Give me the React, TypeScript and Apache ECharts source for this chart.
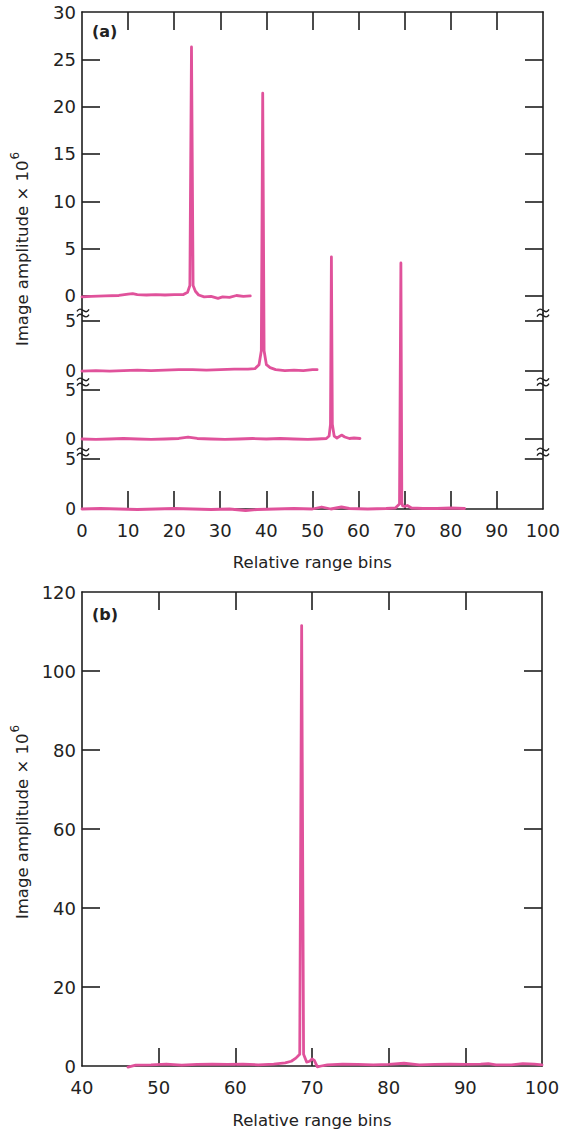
import React, { useEffect, useRef } from "react";
import * as echarts from "echarts";

// ---------- data ----------
// Panel (a): four offset traces (each on its own broken-axis segment)
const t1X = [0, 2, 5, 8, 10, 11, 12, 14, 16, 18, 20, 22, 22.9, 23.4, 23.75, 24.1, 24.6, 25.3, 26.5, 28, 29.5, 30.5, 32, 33.5, 35, 36.5];
const t1Y = [-0.1, -0.05, 0, 0.05, 0.2, 0.25, 0.15, 0.1, 0.15, 0.1, 0.15, 0.15, 0.4, 1.1, 26.3, 1.1, 0.5, 0.1, -0.1, -0.05, -0.25, -0.1, -0.15, 0.05, -0.05, 0];

const t2X = [0, 3, 6, 9, 12, 15, 18, 21, 24, 27, 30, 33, 36, 37.5, 38.4, 38.9, 39.2, 39.5, 40.0, 40.8, 42, 44, 46, 48, 50, 51];
const t2Y = [-0.05, 0, -0.05, 0, 0.05, 0, 0.05, 0.1, 0.1, 0.05, 0.1, 0.15, 0.15, 0.2, 0.6, 2.0, 27.9, 2.0, 0.6, 0.3, 0.1, 0, 0.05, 0, 0.1, 0.1];

const t3X = [0, 3, 6, 9, 12, 15, 18, 21, 23, 25, 28, 31, 34, 37, 40, 43, 46, 49, 51, 53, 53.6, 53.9, 54.1, 54.3, 54.7, 55.3, 56.3, 57, 58, 59, 60.3];
const t3Y = [0, -0.05, 0, 0.05, 0, -0.05, 0, 0.05, 0.2, 0.05, 0, -0.05, 0, 0.05, 0, 0.05, 0, -0.05, 0, 0.05, 0.3, 1.5, 18.6, 1.5, 0.3, 0.1, 0.4, 0.2, 0.05, 0.1, 0.05];

const t4X = [0, 4, 8, 12, 16, 20, 24, 28, 32, 35.5, 38, 42, 46, 50, 52, 54, 56.3, 58, 62, 66, 68, 68.9, 69.2, 69.4, 69.6, 70.0, 70.6, 71.5, 74, 77, 80, 83];
const t4Y = [0, 0.05, 0, -0.05, 0, 0.05, 0, -0.05, 0, -0.15, -0.05, 0, 0.05, 0, 0.2, 0, 0.2, 0.05, 0, 0.05, 0.1, 0.5, 24.6, 0.6, 0.3, 0.25, 0.35, 0.1, 0.05, 0.05, 0.1, 0.05];

// Panel (b)
const bX = [46, 47, 49, 51, 53, 55, 57, 59, 61, 63, 65, 66.5, 67.3, 67.9, 68.4, 68.65, 68.9, 69.3, 69.7, 70.0, 70.3, 70.7, 71.2, 72, 74, 76, 78, 80, 82, 84, 86, 88, 90, 92, 93, 94, 96, 97.5, 99, 100];
const bY = [-0.3, 0.2, 0.3, 0.5, 0.2, 0.4, 0.5, 0.4, 0.5, 0.3, 0.5, 0.8, 1.2, 2.0, 3.0, 111.5, 3.0, 1.0, 1.2, 1.8, 1.4, -0.2, 0, 0.3, 0.5, 0.4, 0.3, 0.4, 0.7, 0.3, 0.4, 0.5, 0.4, 0.5, 0.6, 0.3, 0.3, 0.6, 0.5, 0.3];

// tick labels
const segTopLabels = [0, 5, 10, 15, 20, 25, 30];
const segLowLabels = [0, 5];
const xTickValuesA = [10, 20, 30, 40, 50, 60, 70, 80, 90];
const xTickValuesB = [50, 60, 70, 80, 90];
const yTickValuesB = [20, 40, 60, 80, 100];

const X_TITLE = "Relative range bins";
const Y_TITLE_MAIN = "Image amplitude \u00D7 10";
const Y_TITLE_EXP = "6";

const COLOR = "#e0529b";
const AXIS = "#1e1e1e";
const FONT = "'DejaVu Sans', 'Liberation Sans', Arial, sans-serif";

const pairs = (xs: number[], ys: number[]) => xs.map((x, i) => [x, ys[i]]);

export default function App() {
  const ref = useRef<HTMLDivElement>(null);
  useEffect(() => {
    document.body.style.margin = "0";
    const chart = echarts.init(ref.current!, null, { renderer: "svg" });

    const L = 82, R = 20, RB = 21;
    const grids = [
      { left: L, right: R, top: 12, height: 301 },
      { left: L, right: R, top: 313, height: 69 },
      { left: L, right: R, top: 382, height: 70 },
      { left: L, right: R, top: 452, height: 57 },
      { left: L, right: RB, top: 592, height: 474 },
    ];

    const lineStyle = { color: AXIS, width: 1.6 };
    const labelStyle = { color: "#222", fontSize: 18, fontFamily: FONT };
    const lowLabelStyle = { color: "#222", fontSize: 17, fontFamily: FONT };
    const titleStyle = { color: "#222", fontSize: 16.5, fontFamily: FONT };

    const hiddenX = (g: number) => ({
      type: "value", gridIndex: g, min: 0, max: 100, show: false,
    });

    const xAxis: any[] = [
      {
        type: "value", gridIndex: 0, position: "top", min: 0, max: 100,
        axisLine: { show: true, onZero: false, lineStyle },
        axisTick: { show: true, inside: true, length: 18, lineStyle, customValues: xTickValuesA },
        axisLabel: { show: false }, splitLine: { show: false },
      },
      hiddenX(1),
      hiddenX(2),
      {
        type: "value", gridIndex: 3, position: "bottom", min: 0, max: 100, interval: 10,
        axisLine: { show: true, onZero: false, lineStyle },
        axisTick: { show: true, inside: true, length: 18, lineStyle, customValues: xTickValuesA },
        axisLabel: { ...labelStyle, margin: 12, showMinLabel: true, showMaxLabel: true },
        splitLine: { show: false },
        name: X_TITLE, nameLocation: "middle", nameGap: 45,
        nameTextStyle: titleStyle,
      },
      {
        type: "value", gridIndex: 4, position: "bottom", min: 40, max: 100, interval: 10,
        axisLine: { show: true, onZero: false, lineStyle },
        axisTick: { show: true, inside: true, length: 18, lineStyle, customValues: xTickValuesB },
        axisLabel: { ...labelStyle, margin: 12, showMinLabel: true, showMaxLabel: true },
        splitLine: { show: false },
        name: X_TITLE, nameLocation: "middle", nameGap: 46,
        nameTextStyle: titleStyle,
      },
      {
        type: "value", gridIndex: 4, position: "top", min: 40, max: 100,
        axisLine: { show: true, onZero: false, lineStyle },
        axisTick: { show: true, inside: true, length: 18, lineStyle, customValues: xTickValuesB },
        axisLabel: { show: false }, splitLine: { show: false },
      },
    ];

    const segRanges = [
      { min: -1.8, max: 30, labels: segTopLabels, ticks: [0, 5, 10, 15, 20, 25], style: labelStyle },
      { min: -1.14, max: 5.8, labels: segLowLabels, ticks: [0, 5], style: lowLabelStyle },
      { min: -1.33, max: 5.82, labels: segLowLabels, ticks: [0, 5], style: lowLabelStyle },
      { min: 0, max: 5.7, labels: segLowLabels, ticks: [5], style: lowLabelStyle },
    ];

    const yAxis: any[] = [];
    segRanges.forEach((s, g) => {
      yAxis.push({
        type: "value", gridIndex: g, position: "left", min: s.min, max: s.max,
        axisLine: { show: true, onZero: false, lineStyle },
        axisTick: { show: true, inside: true, length: 18, lineStyle, customValues: s.ticks },
        axisLabel: { ...s.style, margin: 6, customValues: s.labels, hideOverlap: false },
        splitLine: { show: false },
      });
      yAxis.push({
        type: "value", gridIndex: g, position: "right", min: s.min, max: s.max,
        axisLine: { show: true, onZero: false, lineStyle },
        axisTick: { show: true, inside: true, length: 18, lineStyle, customValues: s.ticks },
        axisLabel: { show: false },
        splitLine: { show: false },
      });
    });
    yAxis.push({
      type: "value", gridIndex: 4, position: "left", min: 0, max: 120, interval: 20,
      axisLine: { show: true, onZero: false, lineStyle },
      axisTick: { show: true, inside: true, length: 18, lineStyle, customValues: yTickValuesB },
      axisLabel: { ...labelStyle, margin: 6, showMinLabel: true, showMaxLabel: true },
      splitLine: { show: false },
    });
    yAxis.push({
      type: "value", gridIndex: 4, position: "right", min: 0, max: 120, interval: 20,
      axisLine: { show: true, onZero: false, lineStyle },
      axisTick: { show: true, inside: true, length: 18, lineStyle, customValues: yTickValuesB },
      axisLabel: { show: false },
      splitLine: { show: false },
    });

    const mkSeries = (data: number[][], xi: number, yi: number) => ({
      type: "line", data, xAxisIndex: xi, yAxisIndex: yi,
      showSymbol: false, symbol: "none", clip: false, smooth: false,
      lineStyle: { color: COLOR, width: 2.8, join: "round", cap: "round" },
      z: 3,
    });

    const series = [
      mkSeries(pairs(t1X, t1Y), 0, 0),
      mkSeries(pairs(t2X, t2Y), 1, 2),
      mkSeries(pairs(t3X, t3Y), 2, 4),
      mkSeries(pairs(t4X, t4Y), 3, 6),
      mkSeries(pairs(bX, bY), 4, 8),
    ];

    // axis-break marks (two small waves crossing each vertical axis)
    const breakYs = [313, 382, 452];
    const breaks: any[] = [];
    breakYs.forEach((y) => {
      [83, 543].forEach((x) => {
        [-2.6, 2.6].forEach((dy) => {
          breaks.push({
            type: "bezierCurve", z: 10,
            shape: {
              x1: x - 6, y1: y + dy + 1, x2: x + 6, y2: y + dy - 1,
              cpx1: x - 2, cpy1: y + dy - 6, cpx2: x + 2, cpy2: y + dy + 6,
            },
            style: { stroke: AXIS, lineWidth: 1.4, fill: null },
          });
        });
      });
    });

    const yTitle = (cy: number) => ({
      type: "text", x: 20, y: cy, rotation: Math.PI / 2,
      style: {
        text: "{m|" + Y_TITLE_MAIN + "}{s|" + Y_TITLE_EXP + "}",
        align: "center", verticalAlign: "middle",
        rich: {
          m: { fill: "#222", fontSize: 16.5, fontFamily: FONT, verticalAlign: "bottom", lineHeight: 22 },
          s: { fill: "#222", fontSize: 12, fontFamily: FONT, verticalAlign: "top", lineHeight: 22, padding: [0, 0, 0, 1] },
        },
      },
    });

    const graphic = [
      ...breaks,
      {
        type: "text", x: 92, y: 31,
        style: { text: "(a)", fill: "#222", fontSize: 16, fontWeight: "bold", fontFamily: FONT, verticalAlign: "middle" },
      },
      {
        type: "text", x: 92, y: 614,
        style: { text: "(b)", fill: "#222", fontSize: 16, fontWeight: "bold", fontFamily: FONT, verticalAlign: "middle" },
      },
      yTitle(249),
      yTitle(822),
    ];

    chart.setOption({
      animation: false,
      backgroundColor: "#ffffff",
      grid: grids,
      xAxis,
      yAxis,
      series,
      graphic,
    } as any);
    return () => chart.dispose();
  }, []);
  return <div ref={ref} style={{ width: 563, height: 1133 }} />;
}
